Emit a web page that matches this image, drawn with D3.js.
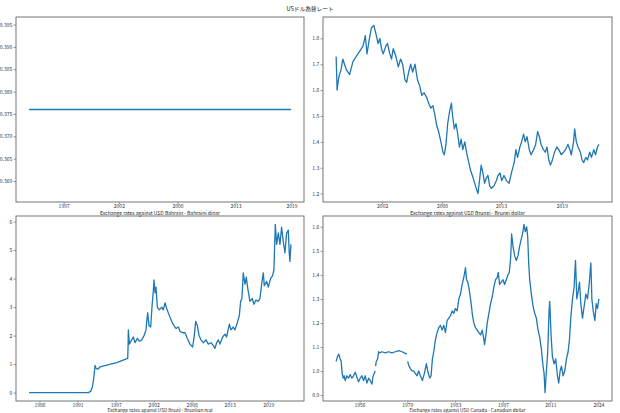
<!DOCTYPE html>
<html><head><meta charset="utf-8">
<script src="https://cdn.jsdelivr.net/npm/d3@7"></script>
<style>
body{margin:0;background:#fff;}
svg{display:block;}
.tick text{font-family:"Noto Sans CJK JP","Noto Sans",sans-serif;font-size:5px;fill:#333;}
</style></head><body>
<svg id="c" width="620" height="413"></svg>
<script>
// ---------- DATA ----------
const chartTitle = "USドル為替レート";

const bahrainYears  = [1993.66, 1997.0, 2002.0, 2008.0, 2013.0, 2018.95];
const bahrainValues = [0.376, 0.376, 0.376, 0.376, 0.376, 0.376];
const bahrainTicks = [1997.0, 2002.33, 2008.0, 2013.6, 2019.0];
const bahrainTickLabels = ["1997","2002","2008","2013","2019"];

const bruneiYears = [1997.65,1997.74,1997.90,1998.12,1998.28,1998.44,1998.60,1998.92,1999.24,1999.55,1999.87,2000.19,2000.41,2000.57,2000.76,2000.98,2001.21,2001.40,2001.62,2001.78,2001.94,2002.10,2002.35,2002.51,2002.73,2002.89,2003.05,2003.30,2003.53,2003.75,2003.94,2004.16,2004.32,2004.51,2004.70,2004.89,2005.11,2005.34,2005.53,2005.75,2005.97,2006.23,2006.39,2006.61,2006.80,2006.96,2007.18,2007.34,2007.56,2007.75,2007.88,2008.04,2008.20,2008.39,2008.55,2008.67,2008.83,2008.99,2009.15,2009.31,2009.47,2009.63,2009.82,2009.98,2010.20,2010.36,2010.61,2010.83,2011.06,2011.21,2011.37,2011.53,2011.69,2011.85,2012.01,2012.17,2012.33,2012.58,2012.80,2012.96,2013.15,2013.31,2013.53,2013.76,2014.01,2014.23,2014.49,2014.65,2014.81,2015.03,2015.19,2015.38,2015.54,2015.70,2015.92,2016.08,2016.33,2016.52,2016.71,2016.87,2017.03,2017.25,2017.44,2017.60,2017.76,2017.92,2018.11,2018.30,2018.52,2018.71,2018.94,2019.16,2019.35,2019.57,2019.76,2019.89,2020.11,2020.21,2020.37,2020.53,2020.75,2020.91,2021.07,2021.26,2021.42,2021.64,2021.80,2022.02,2022.18,2022.37,2022.50];
const bruneiValues = [1.73,1.60,1.65,1.68,1.72,1.70,1.68,1.66,1.71,1.73,1.75,1.77,1.81,1.74,1.79,1.84,1.85,1.82,1.78,1.80,1.76,1.74,1.77,1.78,1.74,1.72,1.76,1.73,1.69,1.72,1.70,1.64,1.63,1.67,1.70,1.67,1.70,1.64,1.62,1.58,1.59,1.57,1.55,1.53,1.54,1.51,1.46,1.44,1.40,1.36,1.35,1.39,1.47,1.52,1.55,1.50,1.45,1.47,1.43,1.38,1.41,1.37,1.40,1.36,1.32,1.29,1.26,1.23,1.20,1.25,1.31,1.28,1.24,1.26,1.27,1.23,1.22,1.23,1.25,1.27,1.28,1.25,1.27,1.25,1.24,1.28,1.32,1.37,1.34,1.38,1.40,1.43,1.40,1.42,1.37,1.35,1.37,1.39,1.44,1.42,1.39,1.37,1.36,1.38,1.33,1.31,1.33,1.36,1.38,1.37,1.35,1.36,1.37,1.39,1.37,1.35,1.40,1.45,1.40,1.38,1.36,1.33,1.32,1.34,1.33,1.36,1.34,1.37,1.35,1.38,1.39];
const bruneiTicks = [2002.0, 2007.66, 2013.25, 2019.0];
const bruneiTickLabels = ["2002","2008","2013","2019"];

const brazilYears = [1984.51,1993.06,1993.40,1993.64,1993.83,1994.02,1994.17,1994.41,1994.74,1995.70,1997.14,1998.73,1998.78,1998.82,1998.97,1999.30,1999.54,1999.78,2000.12,2000.41,2000.75,2001.08,2001.37,2001.47,2001.61,2001.80,2002.04,2002.23,2002.43,2002.52,2002.67,2002.81,2003.00,2003.29,2003.63,2003.87,2004.11,2004.35,2004.73,2005.07,2005.40,2005.69,2006.03,2006.27,2006.65,2006.99,2007.33,2007.71,2008.09,2008.33,2008.53,2008.77,2009.01,2009.29,2009.63,2010.02,2010.35,2010.74,2011.07,2011.31,2011.55,2011.79,2012.03,2012.42,2012.75,2012.99,2013.38,2013.62,2013.95,2014.19,2014.53,2014.82,2015.01,2015.20,2015.39,2015.63,2015.83,2016.07,2016.35,2016.69,2016.93,2017.22,2017.56,2017.80,2018.04,2018.28,2018.42,2018.76,2019.00,2019.33,2019.62,2019.81,2020.01,2020.20,2020.44,2020.68,2020.92,2021.16,2021.40,2021.64,2021.88,2022.02,2022.12,2022.26];
const brazilValues = [0.0,0.0,0.05,0.2,0.5,0.95,0.85,0.82,0.9,0.96,1.05,1.2,1.6,2.2,1.7,1.85,1.95,1.75,1.9,1.8,1.85,2.0,2.2,2.5,2.8,2.35,2.3,3.0,3.6,3.95,3.5,3.7,3.0,2.9,3.0,2.9,3.15,2.95,2.7,2.5,2.35,2.25,2.3,2.15,2.1,2.1,1.9,1.7,1.6,2.0,2.5,2.35,2.0,1.85,1.75,1.85,1.7,1.75,1.65,1.55,1.75,1.85,1.7,1.95,2.05,1.95,2.4,2.2,2.3,2.2,2.45,2.7,3.2,3.3,4.2,3.8,4.05,3.6,3.2,3.3,3.1,3.25,3.2,3.3,3.8,4.2,3.75,3.9,3.7,4.0,4.1,4.3,5.9,5.2,5.6,5.2,5.8,5.3,4.9,5.6,5.7,4.9,4.6,5.2];
const brazilTicks = [1986.0, 1991.48, 1997.0, 2002.47, 2007.95, 2013.43, 2019.0];
const brazilTickLabels = ["1986","1991","1997","2002","2008","2013","2019"];

const canadaYears = [1949.34,1949.72,1950.10,1950.48,1950.77,1951.05,1951.34,1951.63,1951.91,1952.39,1952.86,1953.34,1953.81,1954.29,1954.76,1955.24,1955.71,1956.19,1956.67,1957.14,1957.62,1958.09,1958.57,1959.04,1959.52,1959.80,1960.18,1960.47,1960.52,1960.56,1960.76,1961.14,1961.42,1961.71,1962.37,1963.32,1964.27,1965.22,1966.18,1967.13,1968.08,1968.74,1969.50,1969.60,1969.69,1970.07,1970.46,1970.93,1971.41,1971.88,1972.36,1972.83,1973.31,1973.88,1974.45,1975.02,1975.40,1975.97,1976.35,1976.73,1977.11,1977.59,1978.06,1978.54,1979.01,1979.49,1979.97,1980.44,1980.92,1981.39,1981.87,1982.34,1982.82,1983.29,1983.77,1984.25,1984.72,1985.20,1985.67,1986.15,1986.43,1986.81,1987.29,1987.76,1988.14,1988.52,1989.00,1989.48,1989.95,1990.43,1990.90,1991.38,1991.57,1991.95,1992.33,1992.80,1993.28,1993.76,1994.23,1994.71,1995.18,1995.47,1995.85,1996.32,1996.80,1997.27,1997.75,1998.23,1998.61,1998.99,1999.27,1999.65,2000.13,2000.60,2001.08,2001.55,2002.03,2002.50,2002.79,2003.17,2003.55,2003.84,2004.12,2004.41,2004.88,2005.36,2005.83,2006.31,2006.78,2007.26,2007.74,2008.21,2008.50,2008.78,2009.07,2009.54,2009.92,2010.11,2010.49,2010.87,2011.35,2011.82,2012.30,2012.68,2013.06,2013.44,2013.92,2014.39,2014.87,2015.34,2015.72,2016.10,2016.58,2017.05,2017.44,2017.82,2018.20,2018.58,2018.96,2019.43,2019.91,2020.38,2020.86,2021.33,2021.81,2022.10,2022.48,2022.95,2023.33,2023.71,2024.09];
const canadaValues = [1.04,1.06,1.07,1.05,1.04,0.99,0.97,0.98,0.96,0.98,0.97,0.985,0.97,0.98,0.995,0.975,0.955,0.97,0.98,0.96,0.98,0.95,0.97,0.96,0.945,0.975,0.99,1.0,null,1.02,1.04,1.05,1.08,1.075,1.08,1.075,1.08,1.075,1.08,1.085,1.08,1.075,1.07,null,1.04,1.02,1.01,1.0,1.0,0.99,0.98,1.0,0.98,0.96,0.99,1.03,1.0,0.97,0.98,1.05,1.08,1.13,1.16,1.18,1.19,1.17,1.19,1.16,1.21,1.22,1.23,1.25,1.24,1.26,1.25,1.30,1.32,1.36,1.39,1.43,1.38,1.37,1.33,1.28,1.23,1.20,1.18,1.17,1.16,1.15,1.17,1.13,1.11,1.15,1.20,1.24,1.28,1.31,1.35,1.38,1.39,1.41,1.36,1.37,1.38,1.36,1.38,1.40,1.41,1.47,1.57,1.52,1.48,1.46,1.48,1.52,1.55,1.58,1.61,1.58,1.60,1.56,1.45,1.38,1.32,1.27,1.24,1.22,1.17,1.14,1.09,1.02,0.99,0.91,0.98,1.08,1.25,1.29,1.15,1.06,1.03,1.05,0.98,0.95,1.00,1.02,0.98,1.00,1.05,1.08,1.13,1.22,1.30,1.35,1.46,1.30,1.33,1.37,1.28,1.22,1.27,1.32,1.30,1.36,1.45,1.30,1.25,1.21,1.28,1.26,1.30];
const canadaTicks = [1956.0, 1969.6, 1983.2, 1996.8, 2010.3, 2024.0];
const canadaTickLabels = ["1956","1970","1983","1997","2011","2024"];

const xLabels = [
  "Exchange rates against USD Bahrain - Bahraini dinar",
  "Exchange rates against USD Brunei - Brunei dollar",
  "Exchange rates against USD Brazil - Brazilian real",
  "Exchange rates against USD Canada - Canadian dollar"
];

// ---------- LAYOUT ----------
const svg = d3.select("#c");
const boxes = [
  {x0:16, x1:304, y0:17, y1:202},
  {x0:323, x1:612, y0:17, y1:202},
  {x0:16, x1:304, y0:216, y1:401},
  {x0:323, x1:612, y0:216, y1:401}
];
const FONT = "'Noto Sans CJK JP','Noto Sans',sans-serif";

svg.append("text").attr("x",310).attr("y",11.3).attr("text-anchor","middle")
  .style("font-family",FONT).style("font-size","5.7px").style("fill","#222")
  .text(chartTitle);

function padDomain(lo, hi){
  if (lo === hi){ lo = lo*0.95; hi = hi*1.05; }
  const p = (hi-lo)*0.05; return [lo-p, hi+p];
}

const panels = [
  {years:bahrainYears, values:bahrainValues, ticks:bahrainTicks, tickLabels:bahrainTickLabels, yTicks:d3.range(0.360,0.3951,0.005), yFmt:d3.format(".3f")},
  {years:bruneiYears, values:bruneiValues, ticks:bruneiTicks, tickLabels:bruneiTickLabels, yTicks:d3.range(1.2,1.801,0.1), yFmt:d3.format(".1f")},
  {years:brazilYears, values:brazilValues, ticks:brazilTicks, tickLabels:brazilTickLabels, yTicks:d3.range(0,6.01,1), yFmt:d3.format("d")},
  {years:canadaYears, values:canadaValues, ticks:canadaTicks, tickLabels:canadaTickLabels, yTicks:d3.range(0.9,1.601,0.1), yFmt:d3.format(".1f")}
];

panels.forEach((p,i)=>{
  const b = boxes[i];
  const bottomRow = i >= 2;
  const data = p.years.map((yr,j)=>({x:yr, y:p.values[j]}));
  const valid = data.filter(d=>d.y!==null);
  const x = d3.scaleLinear().domain(padDomain(d3.min(p.years), d3.max(p.years))).range([b.x0,b.x1]);
  const y = d3.scaleLinear().domain(padDomain(d3.min(valid,d=>d.y), d3.max(valid,d=>d.y))).range([b.y1,b.y0]);
  const g = svg.append("g");

  const line = d3.line().defined(d=>d.y!==null).x(d=>x(d.x)).y(d=>y(d.y));
  g.append("path").datum(data).attr("d",line).attr("fill","none")
    .attr("stroke","#1f77b4").attr("stroke-width",1.3).attr("stroke-linejoin","round");

  const xa = d3.axisBottom(x).tickValues(p.ticks).tickFormat((d,k)=>p.tickLabels[k])
    .tickSize(bottomRow?1.8:2.2).tickPadding(bottomRow?0.2:0.6);
  const gx = g.append("g").attr("transform",`translate(0,${b.y1})`).call(xa);
  const ya = d3.axisLeft(y).tickValues(p.yTicks).tickFormat(p.yFmt).tickSize(2.5).tickPadding(1.2);
  const gy = g.append("g").attr("transform",`translate(${b.x0},0)`).call(ya);
  [gx,gy].forEach(a=>{
    a.select(".domain").remove();
    a.selectAll(".tick line").attr("stroke","#555").attr("stroke-width",0.6);
  });

  g.append("rect").attr("x",b.x0).attr("y",b.y0).attr("width",b.x1-b.x0).attr("height",b.y1-b.y0)
    .attr("fill","none").attr("stroke","#666").attr("stroke-width",0.9);

  g.append("text").attr("x",(b.x0+b.x1)/2).attr("y",bottomRow ? 412.4 : b.y1+12.8).attr("text-anchor","middle")
    .style("font-family",FONT).style("font-size",bottomRow?"4.7px":"5px").style("fill","#222")
    .text(xLabels[i]);
});
</script></body></html>
